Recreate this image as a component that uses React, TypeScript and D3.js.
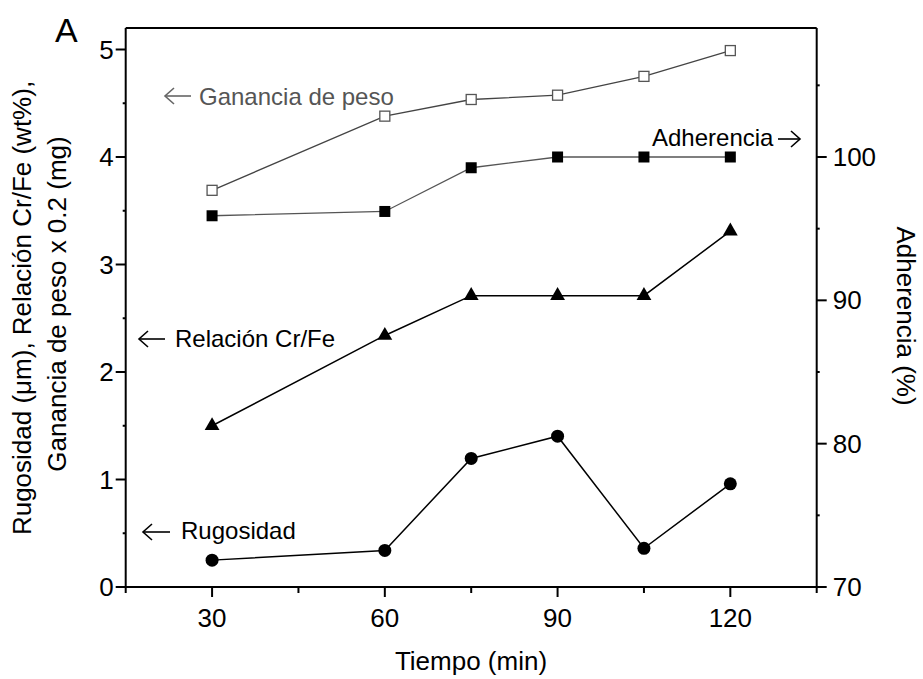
import React from "react";
import * as d3 from "d3";

const times = [30, 60, 75, 90, 105, 120];
const ganancia = [3.69, 4.38, 4.535, 4.575, 4.75, 4.99];
const adherencia = [95.9, 96.2, 99.25, 100, 100, 100];
const relacion = [1.5, 2.34, 2.71, 2.71, 2.71, 3.31];
const rugosidad = [0.25, 0.34, 1.196, 1.403, 0.36, 0.96];

const xTicks = [30, 60, 90, 120];
const xMinor = [15, 45, 75, 105, 135];
const yTicks = [0, 1, 2, 3, 4, 5];
const yMinor = [0.5, 1.5, 2.5, 3.5, 4.5];
const y2Ticks = [70, 80, 90, 100];
const y2Minor = [75, 85, 95, 105];

const W = 923, H = 679;
const L = 125.7, R = 816.7, T = 28, B = 587;
const FONT = "'Liberation Sans', Arial, Helvetica, sans-serif";

export default function App() {
  const x = d3.scaleLinear().domain([15, 135]).range([L, R]);
  const y = d3.scaleLinear().domain([0, 5.2]).range([B, T]);
  const y2 = d3.scaleLinear().domain([70, 109]).range([B, T]);

  const lineL = d3.line<number>().x((_, i) => x(times[i])).y((v) => y(v));
  const lineR = d3.line<number>().x((_, i) => x(times[i])).y((v) => y2(v));

  const arrowLeft = (x1: number, x2: number, yy: number, color: string) => (
    <g stroke={color} strokeWidth={1.6} fill="none">
      <line x1={x1} y1={yy} x2={x2} y2={yy} />
      <path d={`M${x1 + 9},${yy - 8} L${x1},${yy} L${x1 + 9},${yy + 8}`} />
    </g>
  );
  const arrowRight = (x1: number, x2: number, yy: number, color: string) => (
    <g stroke={color} strokeWidth={1.6} fill="none">
      <line x1={x1} y1={yy} x2={x2} y2={yy} />
      <path d={`M${x2 - 9},${yy - 8} L${x2},${yy} L${x2 - 9},${yy + 8}`} />
    </g>
  );

  const tri = d3.symbol().type(d3.symbolTriangle).size(95)();

  return (
    <div style={{ position: "absolute", left: 0, top: 0 }}>
      <svg width={W} height={H} style={{ display: "block", fontFamily: FONT }}>
        <rect width={W} height={H} fill="#fff" />
        {/* frame */}
        <g stroke="#000" strokeWidth={2} fill="none">
          <line x1={L} y1={T} x2={R} y2={T} />
          <line x1={L} y1={T} x2={L} y2={B} />
          <line x1={R} y1={T} x2={R} y2={B} />
          <line x1={L} y1={B} x2={R} y2={B} />
        </g>
        {/* ticks */}
        <g stroke="#000" strokeWidth={2}>
          {xTicks.map((t) => (
            <line key={"xt" + t} x1={x(t)} x2={x(t)} y1={B} y2={B + 10} />
          ))}
          {xMinor.map((t) => (
            <line key={"xm" + t} x1={x(t)} x2={x(t)} y1={B} y2={B + 6} />
          ))}
          {yTicks.map((t) => (
            <line key={"yt" + t} x1={L - 10} x2={L} y1={y(t)} y2={y(t)} />
          ))}
          {yMinor.map((t) => (
            <line key={"ym" + t} x1={L - 3} x2={L} y1={y(t)} y2={y(t)} />
          ))}
          {y2Ticks.map((t) => (
            <line key={"rt" + t} x1={R} x2={R + 10} y1={y2(t)} y2={y2(t)} />
          ))}
          {y2Minor.map((t) => (
            <line key={"rm" + t} x1={R} x2={R + 3} y1={y2(t)} y2={y2(t)} />
          ))}
        </g>
        <g fontSize={26} fill="#000">
          {xTicks.map((t) => (
            <text key={"xl" + t} x={x(t)} y={B + 40} textAnchor="middle">{t}</text>
          ))}
          {yTicks.map((t) => (
            <text key={"yl" + t} x={L - 12} y={y(t)} dy="0.35em" textAnchor="end">{t}</text>
          ))}
          {y2Ticks.map((t) => (
            <text key={"rl" + t} x={R + 16} y={y2(t)} dy="0.35em" textAnchor="start">{t}</text>
          ))}
        </g>
        {/* axis titles */}
        <g fontSize={26} fill="#000">
          <text x={471} y={670} textAnchor="middle">Tiempo (min)</text>
          <text transform={`translate(31,308) rotate(-90)`} textAnchor="middle">
            Rugosidad (μm), Relación Cr/Fe (wt%),
          </text>
          <text transform={`translate(66,304) rotate(-90)`} textAnchor="middle">
            Ganancia de peso x 0.2 (mg)
          </text>
          <text transform={`translate(897,316) rotate(90)`} textAnchor="middle">
            Adherencia (%)
          </text>
          <text x={55} y={42} fontSize={34}>A</text>
        </g>
        {/* series */}
        <path d={lineL(ganancia) || ""} fill="none" stroke="#444" strokeWidth={1.3} />
        <path d={lineR(adherencia) || ""} fill="none" stroke="#555" strokeWidth={1.3} />
        <path d={lineL(relacion) || ""} fill="none" stroke="#000" strokeWidth={1.5} />
        <path d={lineL(rugosidad) || ""} fill="none" stroke="#000" strokeWidth={1.5} />
        {ganancia.map((v, i) => (
          <rect key={"g" + i} x={x(times[i]) - 5} y={y(v) - 5} width={10} height={10}
            fill="#fff" stroke="#555" strokeWidth={1.3} />
        ))}
        {adherencia.map((v, i) => (
          <rect key={"a" + i} x={x(times[i]) - 5.5} y={y2(v) - 5.5} width={11} height={11} fill="#000" />
        ))}
        {relacion.map((v, i) => (
          <path key={"r" + i} d={tri || ""} transform={`translate(${x(times[i])},${y(v)})`} fill="#000" />
        ))}
        {rugosidad.map((v, i) => (
          <circle key={"c" + i} cx={x(times[i])} cy={y(v)} r={6.5} fill="#000" />
        ))}
        {/* annotations */}
        {arrowLeft(165, 191, 96, "#666")}
        <text x={199} y={105} fontSize={24} fill="#555">Ganancia de peso</text>
        {arrowLeft(139, 165, 339, "#000")}
        <text x={175} y={347} fontSize={24} fill="#000">Relación Cr/Fe</text>
        {arrowLeft(143, 170, 532, "#000")}
        <text x={181} y={539} fontSize={24} fill="#000">Rugosidad</text>
        <text x={652} y={146} fontSize={24} fill="#000">Adherencia</text>
        {arrowRight(778, 800, 139, "#000")}
      </svg>
    </div>
  );
}
